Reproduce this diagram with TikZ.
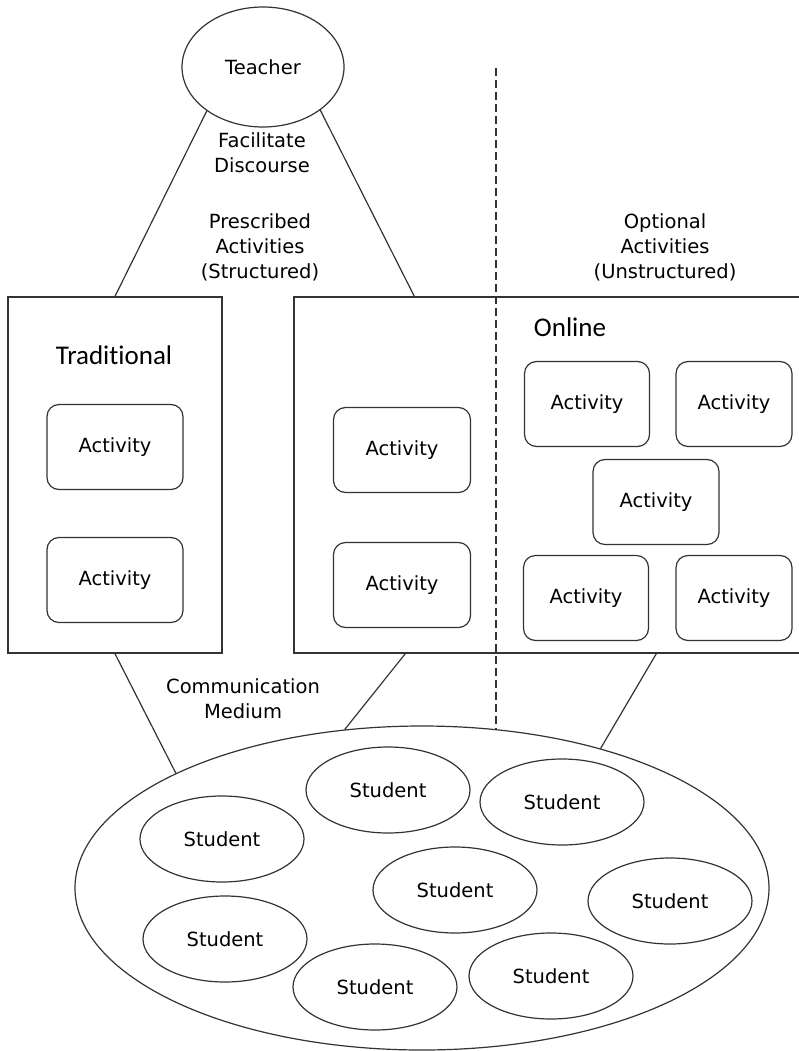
\documentclass[tikz,border=0pt]{standalone}
\usepackage{fontspec}
\setmainfont{DejaVu Sans}
\newfontfamily\headfont[Ligatures=NoCommon]{Carlito}
\usetikzlibrary{shapes,positioning,calc}

\begin{document}
\begin{tikzpicture}[
    x=1pt,
    y=-1pt,
    every node/.style={
        font=\fontsize{19.5}{25}\selectfont,
        text=black
    },
    person/.style={
        ellipse,
        draw=black!80,
        line width=1.2pt,
        inner sep=0pt,
        minimum width=164pt,
        minimum height=86pt
    },
    panel/.style={
        rectangle,
        draw=black!80,
        line width=1.4pt,
        inner sep=0pt,
        minimum height=356pt
    },
    activity/.style={
        rectangle,
        rounded corners=12pt,
        draw=black!80,
        line width=1.2pt,
        inner sep=0pt,
        minimum height=85pt
    },
    heading/.style={
        font=\headfont\fontsize{27}{30}\selectfont
    },
    caption/.style={
        align=center
    },
    link/.style={
        draw=black!80,
        line width=1.2pt
    },
    divider/.style={
        draw=black!80,
        line width=1.2pt,
        dash pattern=on 8pt off 4pt
    }
]
\useasboundingbox (0,0) rectangle (799,1051);

% Lehrer oben
\node[person, minimum width=162pt, minimum height=120pt] (teacher) at (263, 67) {Teacher};

\node[caption] (discourse) at (262, 153) {Facilitate\\Discourse};
\node[caption] (prescribed) at (260, 247) {Prescribed\\Activities\\(Structured)};
\node[caption] (optional) at (665, 247) {Optional\\Activities\\(Unstructured)};

% Die beiden Lernumgebungen
\node[panel, minimum width=214pt] (trad) at (115, 475) {};
\node[panel, minimum width=512pt] (online) at (550, 475) {};

\node[heading] (trad title) at (114, 355) {Traditional};
\node[heading] (online title) at (570, 327) {Online};

% Aktivitaeten traditionell
\node[activity, minimum width=136pt] (ta1) at (115, 447) {Activity};
\node[activity, minimum width=136pt] (ta2) at (115, 580) {Activity};

% Aktivitaeten online, vorgegeben
\node[activity, minimum width=137pt] (oa1) at (402, 450) {Activity};
\node[activity, minimum width=137pt] (oa2) at (402, 585) {Activity};

% Aktivitaeten online, frei
\node[activity, minimum width=125pt] (fa1) at (587, 404) {Activity};
\node[activity, minimum width=116pt] (fa2) at (734, 404) {Activity};
\node[activity, minimum width=126pt] (fa3) at (656, 502) {Activity};
\node[activity, minimum width=125pt] (fa4) at (586, 598) {Activity};
\node[activity, minimum width=116pt] (fa5) at (734, 598) {Activity};

\node[caption] (medium) at (243, 699) {Communication\\Medium};

% Lerngruppe unten
\node[person, minimum width=694pt, minimum height=324pt] (class) at (422, 888) {};

\node[person] (s1) at (388, 790) {Student};
\node[person] (s2) at (562, 802) {Student};
\node[person] (s3) at (222, 839) {Student};
\node[person] (s4) at (455, 890) {Student};
\node[person] (s5) at (670, 901) {Student};
\node[person] (s6) at (225, 939) {Student};
\node[person] (s7) at (375, 987) {Student};
\node[person] (s8) at (551, 976) {Student};

% Trennlinie
\coordinate (divtop) at (496, 68);
\coordinate (divbot) at (496, 729);
\draw[divider] (divtop) -- (divbot);

% Verbindungen
\draw[link] (teacher.218) -- (trad.north);
\draw[link] (teacher.323) -- ($(online.north west)+(121,0)$);
\draw[link] (trad.south) -- (class.155);
\draw[link] ($(online.south west)+(112,0)$) -- (class.116);
\draw[link] ($(online.south west)+(363,0)$) -- (class.38);

\end{tikzpicture}
\end{document}
